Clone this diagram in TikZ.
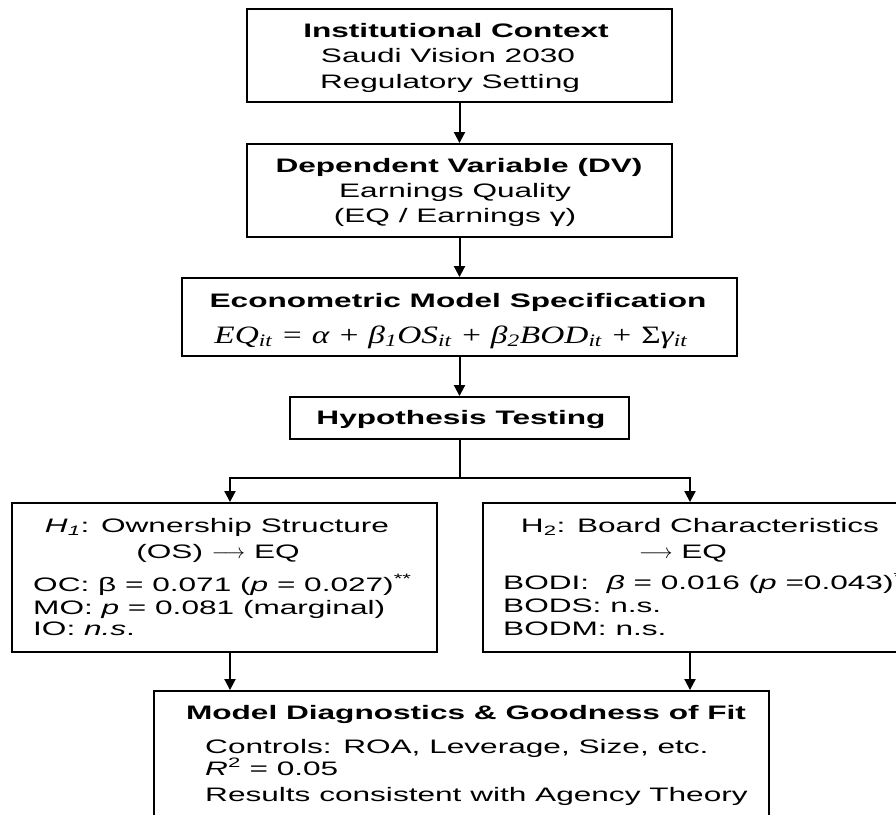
\documentclass[tikz,border=0pt]{standalone}
\usepackage{fontspec}
\setmainfont[FakeStretch=1.62]{Liberation Sans}
\newfontfamily\eqfont{Liberation Serif}
\usetikzlibrary{arrows.meta}
\tikzset{
  box/.style={draw, line width=1.9pt, inner sep=0pt, rectangle},
  txt/.style={inner sep=0pt, anchor=base, font=\fontsize{19.5}{23}\selectfont},
  txtl/.style={txt, anchor=base west},
  arr/.style={line width=2pt, -{Triangle[length=11pt,width=11pt]}},
  ln/.style={line width=2pt},
}
\begin{document}
\begin{tikzpicture}[x=1pt, y=-1pt]
\useasboundingbox (0,0) rectangle (896,814);
\clip (0,0) rectangle (896,814);
% boxes
\node[box, minimum width=425pt, minimum height=93pt] (ctx) at (459.5,55.5) {};
\node[box, minimum width=425pt, minimum height=93pt] (dv) at (459.5,190.5) {};
\node[box, minimum width=555pt, minimum height=78pt] (model) at (459.5,317) {};
\node[box, minimum width=339pt, minimum height=42pt] (hyp) at (459.5,418) {};
\node[box, minimum width=425pt, minimum height=149pt] (h1) at (224.5,577.5) {};
\node[box, minimum width=414pt, minimum height=149pt] (h2) at (690,577.5) {};
\node[box, minimum width=615pt, minimum height=140pt] (diag) at (461.5,761) {};
% texts
\node[txt] (ctxa) at (456,37) {\bfseries Institutional Context};
\node[txt] (ctxb) at (448,62) {Saudi Vision 2030};
\node[txt] (ctxc) at (450,88) {Regulatory Setting};
\node[txt] (dva) at (459,172) {\bfseries Dependent Variable (DV)};
\node[txt] (dvb) at (455,197) {Earnings Quality};
\node[txt] (dvc) at (455,222) {(EQ / Earnings γ)};
\node[txt] (moda) at (458,307) {\bfseries Econometric Model Specification};
\node[txt] (modb) at (451,343) {\resizebox{473pt}{\height}{\eqfont\fontsize{25}{29}\selectfont\itshape EQ\textsubscript{it} = α + β\textsubscript{1}OS\textsubscript{it} + β\textsubscript{2}BOD\textsubscript{it} + {\upshape Σ}γ\textsubscript{it}}};
\node[txt] (hypa) at (461,424) {\bfseries Hypothesis Testing};
\node[txt] (h1a) at (217,532) {\textit{H}\textsubscript{\textit{1}}: Ownership Structure};
\node[txt] (h1b) at (218,558) {(OS) $\longrightarrow$ EQ};
\node[txtl] (h1c) at (33,591) {OC: β = 0.071 (\textit{p} = 0.027)\textsuperscript{**}};
\node[txtl] (h1d) at (33,614) {MO: \textit{p} = 0.081 (marginal)};
\node[txtl] (h1e) at (33,635) {IO: \textit{n.s}.};
\node[txt] (h2a) at (700,532) {H\textsubscript{2}: Board Characteristics};
\node[txt] (h2b) at (683,558) {$\longrightarrow$ EQ};
\node[txtl] (h2c) at (503,589) {BODI:\ \ \textit{β} = 0.016 (\textit{p} =0.043)\textsuperscript{**}};
\node[txtl] (h2d) at (503,612) {BODS: n.s.};
\node[txtl] (h2e) at (503,635) {BODM: n.s.};
\node[txt] (dga) at (466,719) {\bfseries Model Diagnostics \& Goodness of Fit};
\node[txtl] (dgb) at (205,753) {Controls: ROA, Leverage, Size, etc.};
\node[txtl] (dgc) at (205,775) {\textit{R}\textsuperscript{2} = 0.05};
\node[txtl] (dgd) at (205,801) {Results consistent with Agency Theory};
% connectors
\coordinate (br) at (459.5,478);
\coordinate (brL) at (230,478);
\coordinate (brR) at (690,478);
\draw[arr] (ctx.south) -- (dv.north);
\draw[arr] (dv.south) -- (model.north);
\draw[arr] (model.south) -- (hyp.north);
\draw[ln] (hyp.south) -- (br);
\draw[arr] (br) -- (brL) -- (brL |- h1.north);
\draw[arr] (br) -- (brR) -- (brR |- h2.north);
\draw[arr] (brL |- h1.south) -- (brL |- diag.north);
\draw[arr] (brR |- h2.south) -- (brR |- diag.north);
\end{tikzpicture}
\end{document}
